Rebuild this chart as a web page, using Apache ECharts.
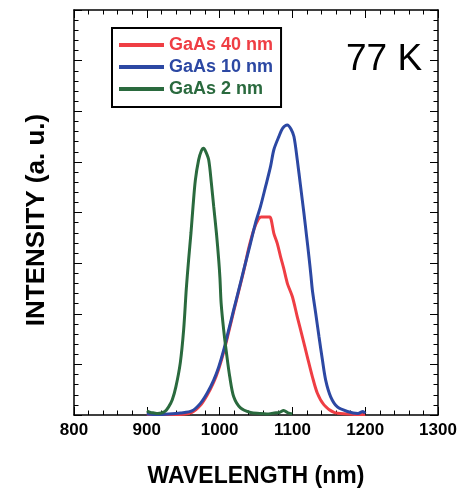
<!DOCTYPE html>
<html>
<head>
<meta charset="utf-8">
<script src="https://cdn.jsdelivr.net/npm/echarts@6/dist/echarts.min.js"></script>
<style>
html,body{margin:0;padding:0;background:#fff;}
#chart{width:466px;height:488px;}
</style>
</head>
<body>
<div id="chart"></div>
<script>
// Series names
const seriesNames = ['GaAs 40 nm', 'GaAs 10 nm', 'GaAs 2 nm'];
// X axis tick labels (nm)
const xTicks = [800, 900, 1000, 1100, 1200, 1300];

// GaAs 40 nm
const wl40 = [900, 915, 930, 946, 962, 973.6, 982.8, 991.9, 998.8, 1005.6, 1012.5, 1019.4, 1026.3, 1033.2, 1040.1, 1047, 1053, 1057, 1063, 1069, 1071, 1074.5, 1079.2, 1083.7, 1088, 1091, 1093.5, 1099.9, 1106.7, 1113.6, 1120.5, 1127.4, 1134.3, 1143.4, 1157.2, 1175.6, 1185, 1200];
const int40 = [0.01, 0.01, 0.01, 0.01, 0.05, 0.19, 0.39, 0.65, 0.91, 1.24, 1.64, 2.05, 2.45, 2.85, 3.3, 3.66, 3.86, 3.91, 3.91, 3.91, 3.85, 3.59, 3.39, 3.13, 2.9, 2.72, 2.58, 2.34, 1.94, 1.55, 1.15, 0.76, 0.43, 0.2, 0.05, 0.02, 0.01, 0.01];

// GaAs 10 nm
const wl10 = [900, 915, 930, 946, 962, 973.6, 982.8, 991.9, 998.8, 1005.6, 1012.5, 1019.4, 1026.3, 1033.2, 1042.4, 1049.3, 1056.2, 1063.1, 1070, 1074.5, 1081.4, 1087, 1093, 1098, 1102.1, 1106.7, 1111.3, 1115.8, 1119.6, 1122.7, 1125.5, 1127.4, 1132, 1136.5, 1141.2, 1145.7, 1152.6, 1161.8, 1175.6, 1190, 1197, 1200];
const int10 = [0.02, 0.01, 0.02, 0.04, 0.08, 0.23, 0.43, 0.69, 0.95, 1.28, 1.68, 2.08, 2.47, 2.87, 3.39, 3.79, 4.12, 4.51, 4.91, 5.24, 5.50, 5.67, 5.73, 5.65, 5.50, 5.04, 4.51, 3.99, 3.52, 3.13, 2.75, 2.47, 2.01, 1.55, 1.09, 0.69, 0.36, 0.16, 0.07, 0.03, 0.07, 0.03];

// GaAs 2 nm
const wl2 = [900, 905, 910, 915, 920, 925, 930, 935, 940, 946, 950.6, 954.3, 957.4, 960.7, 963.5, 966.7, 971.2, 975, 978, 981, 985, 988.7, 991.9, 995.6, 998.8, 1000.5, 1002.1, 1005.6, 1009.4, 1013.9, 1019.4, 1028.7, 1042.4, 1055, 1065, 1075, 1082, 1088, 1094, 1100];
const int2 = [0.08, 0.05, 0.04, 0.03, 0.04, 0.07, 0.16, 0.3, 0.56, 1.03, 1.68, 2.5, 3.06, 3.6, 4.12, 4.64, 5.04, 5.22, 5.27, 5.2, 5.04, 4.58, 4.12, 3.6, 3.06, 2.7, 2.21, 1.68, 1.23, 0.76, 0.36, 0.14, 0.05, 0.03, 0.02, 0.04, 0.05, 0.09, 0.04, 0.02];

const colors = ['#ef3e44', '#2c48a3', '#2a6a3e'];
const zip = (a, b) => a.map((v, i) => [v, b[i]]);

const chart = echarts.init(document.getElementById('chart'), null, {renderer: 'canvas'});
const font = 'Liberation Sans, Arial, Helvetica, sans-serif';
const lineAxis = {show: true, onZero: false, lineStyle: {color: '#000', width: 1.5}};

const xBase = {
  type: 'value', min: xTicks[0], max: xTicks[xTicks.length - 1], interval: 100,
  axisLine: lineAxis,
  axisTick: {show: true, inside: true, length: 8, lineStyle: {color: '#000', width: 1}},
  minorTick: {show: true, splitNumber: 5, length: 4.5, lineStyle: {color: '#000', width: 1}},
  splitLine: {show: false}, minorSplitLine: {show: false}
};
const yBase = {
  type: 'value', min: 0, max: 8, interval: 1,
  axisLine: lineAxis,
  axisTick: {show: true, inside: true, length: 8, lineStyle: {color: '#000', width: 1}},
  minorTick: {show: true, splitNumber: 5, length: 4.5, lineStyle: {color: '#000', width: 1}},
  splitLine: {show: false}, minorSplitLine: {show: false},
  axisLabel: {show: false}
};

const option = {
  animation: false,
  backgroundColor: '#fff',
  grid: {left: 74, right: 28, top: 10, bottom: 73, containLabel: false, outerBoundsMode: 'none'},
  legend: {
    data: seriesNames.map((n, i) => ({name: n, textStyle: {color: colors[i]}})),
    orient: 'vertical', left: 112, top: 28,
    icon: 'rect', itemWidth: 45, itemHeight: 4, itemGap: 4,
    padding: [8, 8, 9, 7],
    borderColor: '#000', borderWidth: 2,
    textStyle: {fontFamily: font, fontWeight: 'bold', fontSize: 18, lineHeight: 17}
  },
  xAxis: [
    Object.assign({}, xBase, {
      position: 'bottom',
      axisLabel: {show: true, color: '#000', fontFamily: font, fontWeight: 'bold', fontSize: 17, margin: 7,
                  formatter: v => String(v)},
      name: 'WAVELENGTH (nm)', nameLocation: 'middle', nameGap: 50,
      nameTextStyle: {color: '#000', fontFamily: font, fontWeight: 'bold', fontSize: 23}
    }),
    Object.assign({}, xBase, {position: 'top', axisLabel: {show: false}})
  ],
  yAxis: [
    Object.assign({}, yBase, {
      position: 'left',
      name: 'INTENSITY (a. u.)', nameLocation: 'middle', nameGap: 24,
      nameTextStyle: {color: '#000', fontFamily: font, fontWeight: 'bold', fontSize: 26, padding: [0, 15, 0, 0]}
    }),
    Object.assign({}, yBase, {position: 'right'})
  ],
  graphic: [{
    type: 'text', left: 346, top: 41,
    style: {text: '77 K', fill: '#000', font: 'normal 37px ' + font}
  }],
  series: [
    {name: seriesNames[0], type: 'line', data: zip(wl40, int40), showSymbol: false, smooth: 0.3,
     lineStyle: {color: colors[0], width: 3}, itemStyle: {color: colors[0]}, xAxisIndex: 0, yAxisIndex: 0},
    {name: seriesNames[1], type: 'line', data: zip(wl10, int10), showSymbol: false, smooth: 0.3,
     lineStyle: {color: colors[1], width: 3}, itemStyle: {color: colors[1]}, xAxisIndex: 0, yAxisIndex: 0},
    {name: seriesNames[2], type: 'line', data: zip(wl2, int2), showSymbol: false, smooth: 0.3,
     lineStyle: {color: colors[2], width: 3}, itemStyle: {color: colors[2]}, xAxisIndex: 0, yAxisIndex: 0}
  ]
};
chart.setOption(option);
</script>
</body>
</html>
